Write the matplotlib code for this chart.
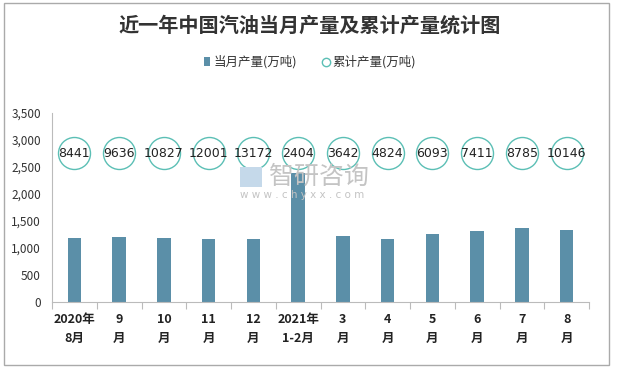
import matplotlib
import matplotlib.pyplot as plt
from matplotlib.patches import Rectangle
from matplotlib.ticker import FuncFormatter

matplotlib.use("Agg")
plt.rcParams['font.family'] = ['Noto Sans CJK SC', 'DejaVu Sans']

# data
months = ["2020年\n8月", "9\n月", "10\n月", "11\n月", "12\n月", "2021年\n1-2月",
          "3\n月", "4\n月", "5\n月", "6\n月", "7\n月", "8\n月"]
monthly = [1191, 1195, 1191, 1172, 1171, 2395, 1225, 1170, 1262, 1316, 1372, 1340]
cumulative = [8441, 9636, 10827, 12001, 13172, 2404, 3642, 4824, 6093, 7411, 8785, 10146]
circle_level = 2750

bar_color = "#5b8fa8"
circle_color = "#5bbfb5"

fig = plt.figure(figsize=(6.19, 3.68), dpi=100)

# watermark (behind the chart)
fig.patches.append(Rectangle((240 / 619, 1 - 187 / 368), 22 / 619, 20 / 368,
                             transform=fig.transFigure, facecolor="#c5d9ea",
                             edgecolor="none", zorder=0))
fig.text(269 / 619, 1 - 177 / 368, "智研咨询", fontsize=18, color="#c4c4c4",
         ha="left", va="center", zorder=0)
fig.text(240 / 619, 1 - 195 / 368, "w w w . c h y x x . c o m", fontsize=7.5,
         color="#c4c4c4", ha="left", va="center", family="DejaVu Sans", zorder=0)

ax = fig.add_axes([52 / 619, 1 - 302 / 368, 537 / 619, 189 / 368])
ax.patch.set_alpha(0)

x = list(range(len(months)))
ax.bar(x, monthly, width=0.3, color=bar_color, zorder=2)
ax.scatter(x, [circle_level] * len(x), s=(32 * 0.72) ** 2, facecolor="white",
           edgecolor=circle_color, linewidth=1.0, zorder=3)
for xi, v in zip(x, cumulative):
    ax.text(xi, circle_level, str(v), ha="center", va="center", fontsize=9,
            color="#222222", zorder=4, family="DejaVu Sans")

ax.set_xlim(-0.5, len(months) - 0.5)
ax.set_ylim(0, 3500)
ax.set_yticks(range(0, 3501, 500))
ax.yaxis.set_major_formatter(FuncFormatter(lambda v, p: f"{int(v):,}"))
ax.tick_params(axis="y", length=0, labelsize=8.5, colors="#333333", pad=8)

ax.set_xticks([i + 0.5 for i in range(-1, len(months))])
ax.set_xticklabels([])
ax.set_xticks(x, minor=True)
ax.set_xticklabels(months, minor=True, fontsize=9, fontweight="bold",
                   color="#222222", linespacing=1.6)
ax.tick_params(axis="x", which="major", length=5, color="#bbbbbb")
ax.tick_params(axis="x", which="minor", length=0, pad=8)

for s in ["top", "right"]:
    ax.spines[s].set_visible(False)
ax.spines["left"].set_color("#bbbbbb")
ax.spines["bottom"].set_color("#bbbbbb")

fig.text(310 / 619, 1 - 25 / 368, "近一年中国汽油当月产量及累计产量统计图", ha="center",
         va="center", fontsize=14.5, fontweight="bold", color="#333333")

# legend
fig.patches.append(Rectangle((204 / 619, 1 - 66 / 368), 6 / 619, 9 / 368,
                             transform=fig.transFigure, facecolor=bar_color))
fig.text(214 / 619, 1 - 62 / 368, "当月产量(万吨)", fontsize=9, va="center",
         color="#333333")
fig.lines.append(plt.Line2D([326 / 619], [1 - 62 / 368], marker="o", markersize=6,
                            markerfacecolor="white", markeredgecolor=circle_color,
                            transform=fig.transFigure))
fig.text(332 / 619, 1 - 62 / 368, "累计产量(万吨)", fontsize=9, va="center",
         color="#333333")

fig.patches.append(Rectangle((4 / 619, 3 / 368), 605 / 619, 362 / 368,
                             transform=fig.transFigure, facecolor="none",
                             edgecolor="#aaaaaa", linewidth=1))

fig.savefig("out.png", dpi=100)
